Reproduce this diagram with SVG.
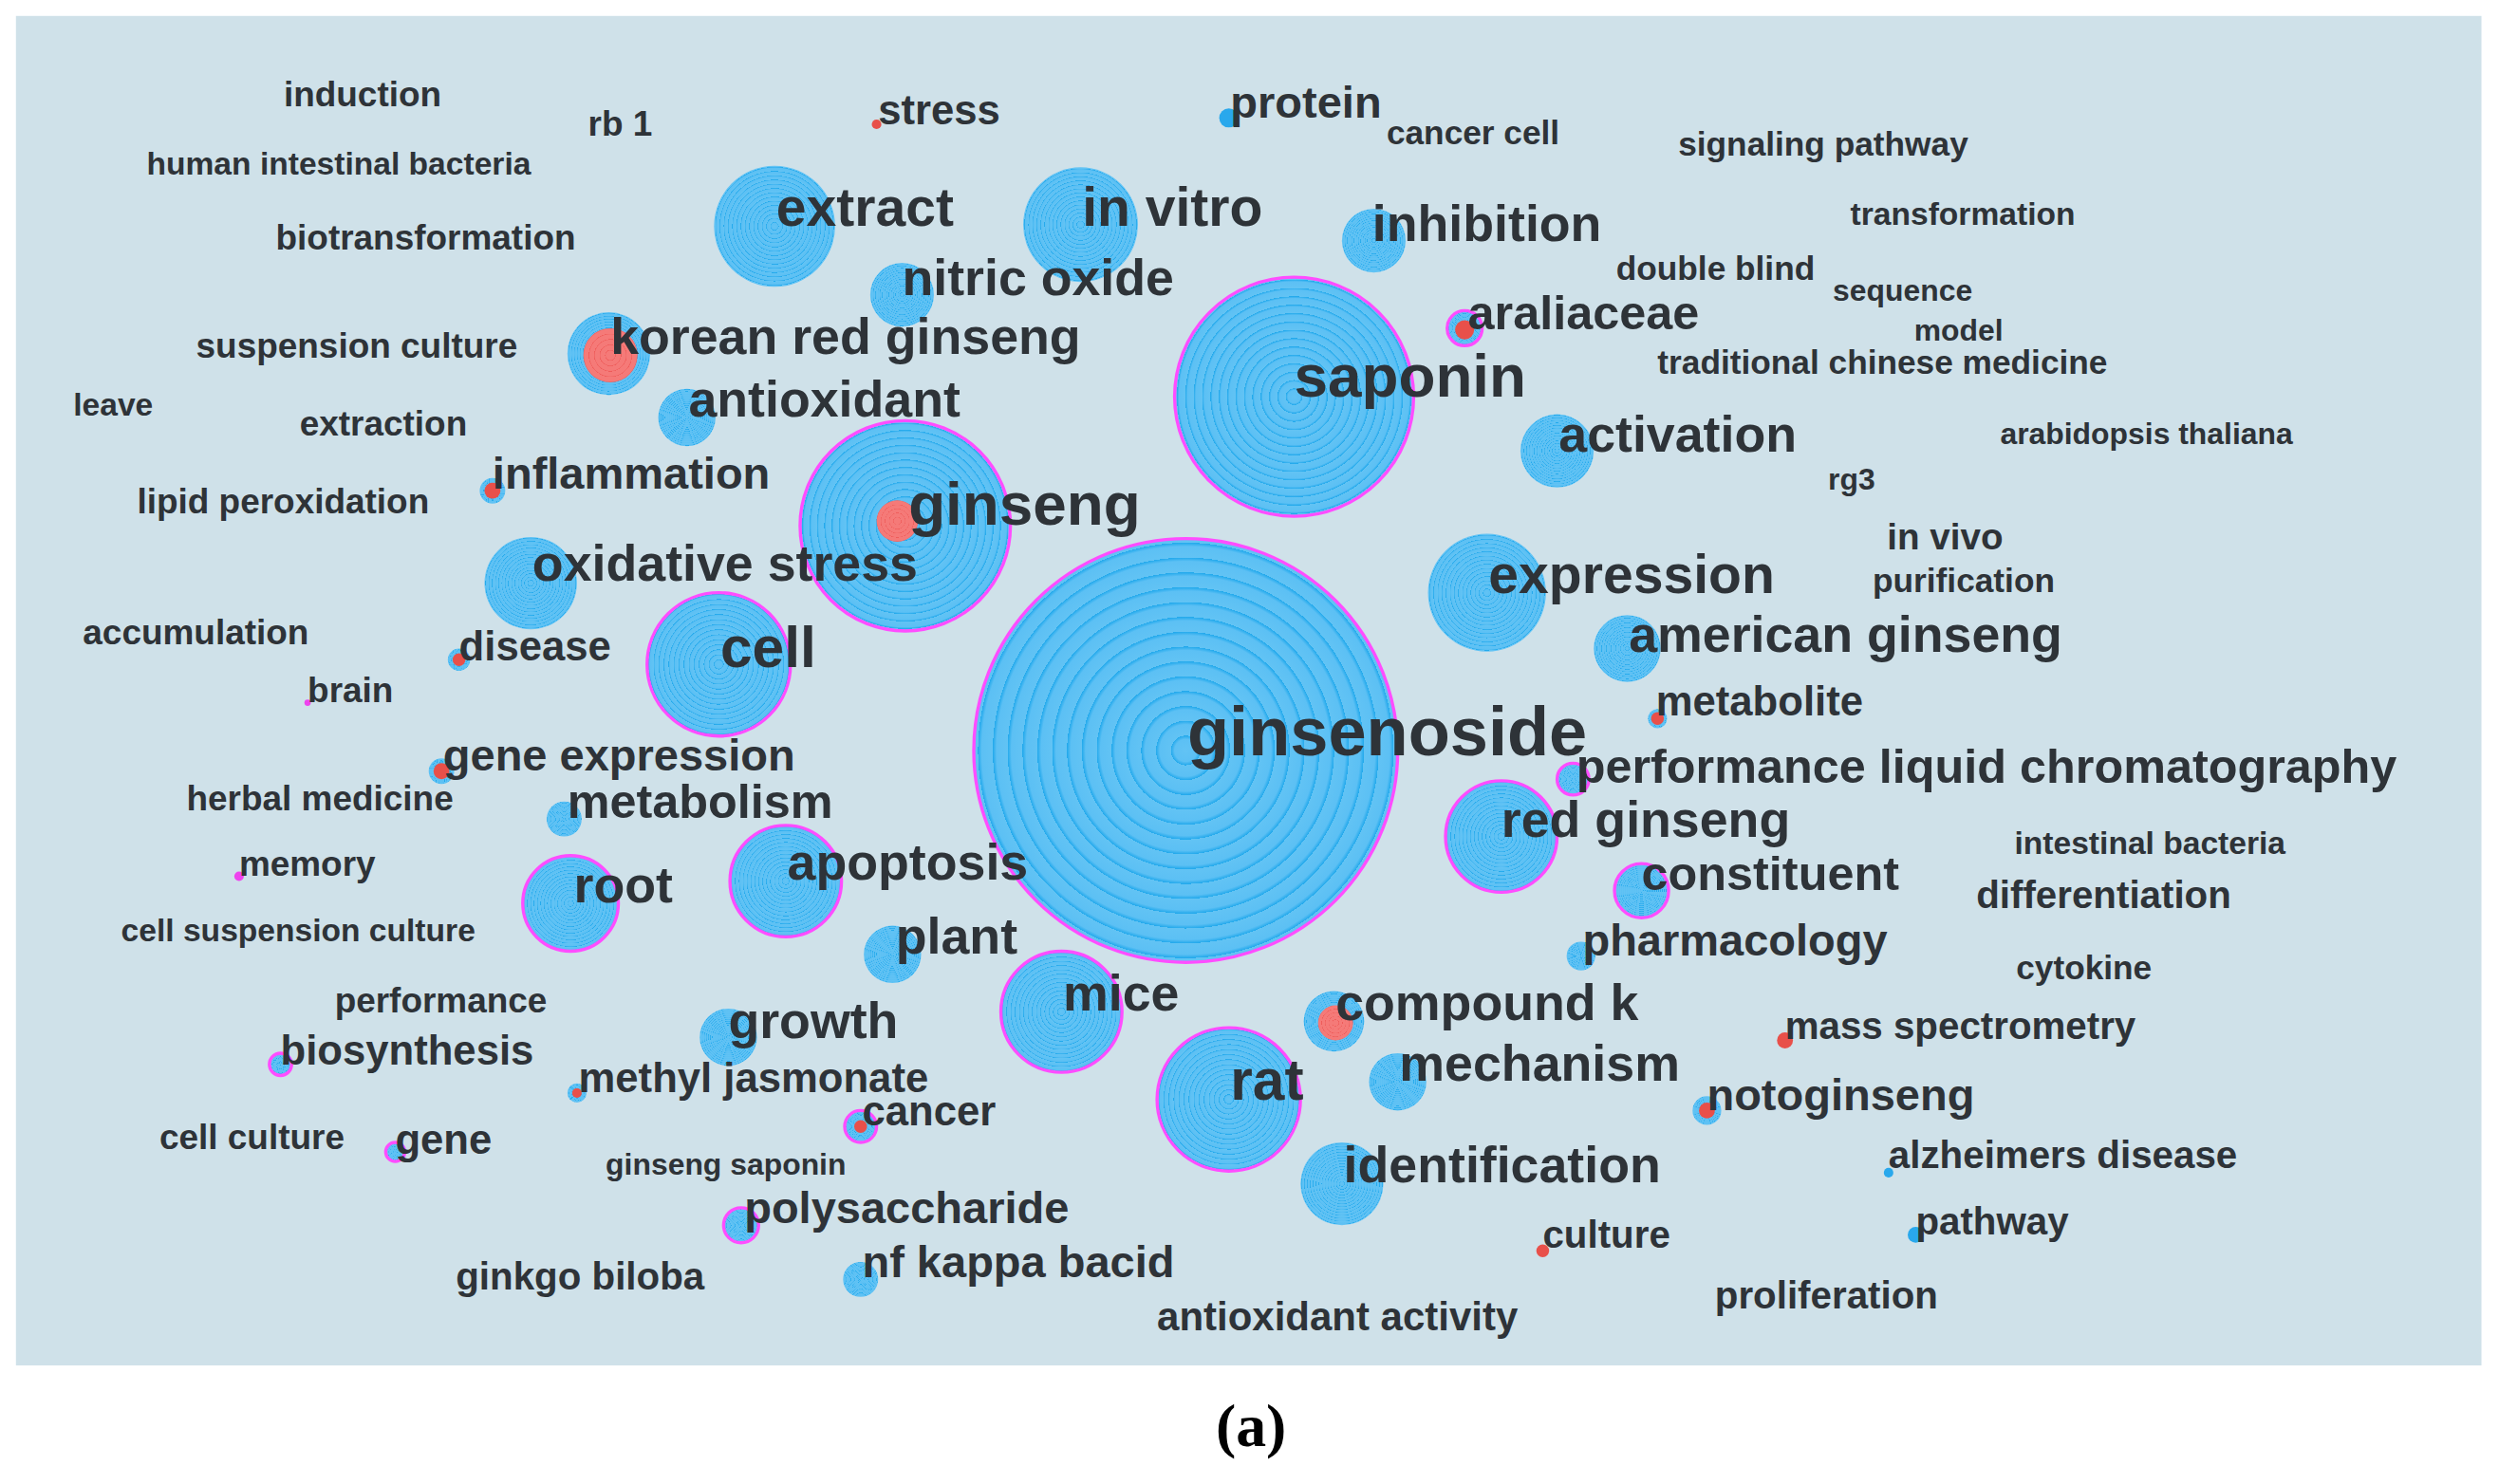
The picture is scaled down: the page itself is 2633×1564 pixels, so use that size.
<svg xmlns="http://www.w3.org/2000/svg" width="2633" height="1564" viewBox="0 0 2633 1564">
<style>
text{font-family:"Liberation Sans",Arial,sans-serif;fill:#2e3338;dominant-baseline:central}
.b{font-weight:bold}
.c{fill:url(#rg)}
.p{stroke:#ff4dff;stroke-width:2}
.r{fill:url(#rr)}
.d{fill:#29a8ec}
.pd{fill:#ee44ee}
.rd{fill:#e8504a}
.cap{font-family:"Liberation Serif","Times New Roman",serif;font-weight:bold;fill:#000}
</style>
<defs>
<radialGradient id="rg" r="0.035" spreadMethod="repeat">
<stop offset="0" stop-color="#62c3f4"/><stop offset="0.75" stop-color="#5cc0f4"/><stop offset="1" stop-color="#22a9ec"/>
</radialGradient>
<radialGradient id="rr" r="0.1" spreadMethod="repeat">
<stop offset="0" stop-color="#f57a78"/><stop offset="0.8" stop-color="#f57a78"/><stop offset="1" stop-color="#ee5a58"/>
</radialGradient>
</defs>
<rect width="2633" height="1564" fill="#fff"/>
<g transform="scale(1.6792)">
<rect x="10" y="10" width="1547" height="847" fill="#cfe1e9"/>
<g id="circles">
<g id="n-ginsenoside"><circle class="c p" cx="744" cy="471" r="133"/></g>
<g id="n-saponin"><circle class="c p" cx="812" cy="249" r="75"/></g>
<g id="n-ginseng"><circle class="c p" cx="568" cy="330" r="66"/><circle class="r" cx="563" cy="327" r="13"/></g>
<g id="n-extract"><circle class="c" cx="486" cy="142" r="38"/></g>
<g id="n-invitro"><circle class="c" cx="678" cy="141" r="36"/></g>
<g id="n-inhibition"><circle class="c" cx="862" cy="151" r="20"/></g>
<g id="n-nitric"><circle class="c" cx="566" cy="185" r="20"/></g>
<g id="n-korean"><circle class="c" cx="382" cy="222" r="26"/><circle class="r" cx="383" cy="223" r="17"/></g>
<g id="n-antioxidant"><circle class="c" cx="431" cy="262" r="18"/></g>
<g id="n-araliaceae"><circle class="c p" cx="919" cy="206" r="11"/><circle class="rd" cx="919" cy="207" r="6"/></g>
<g id="n-activation"><circle class="c" cx="977" cy="283" r="23"/></g>
<g id="n-inflammation"><circle class="c" cx="309" cy="308" r="8"/><circle class="rd" cx="309" cy="308" r="5"/></g>
<g id="n-oxidative"><circle class="c" cx="333" cy="366" r="29"/></g>
<g id="n-expression"><circle class="c" cx="933" cy="372" r="37"/></g>
<g id="n-american"><circle class="c" cx="1021" cy="407" r="21"/></g>
<g id="n-cell"><circle class="c p" cx="451" cy="417" r="45"/></g>
<g id="n-disease"><circle class="c" cx="288" cy="414" r="7"/><circle class="rd" cx="288" cy="414" r="4"/></g>
<g id="n-metabolite"><circle class="c" cx="1040" cy="451" r="6"/><circle class="rd" cx="1040" cy="451" r="4"/></g>
<g id="n-hplc"><circle class="c p" cx="987" cy="489" r="10"/></g>
<g id="n-redginseng"><circle class="c p" cx="942" cy="525" r="35"/></g>
<g id="n-geneexp"><circle class="c" cx="277" cy="484" r="8"/><circle class="rd" cx="277" cy="484" r="5"/></g>
<g id="n-metabolism"><circle class="c" cx="354" cy="514" r="11"/></g>
<g id="n-constituent"><circle class="c p" cx="1030" cy="559" r="17"/></g>
<g id="n-apoptosis"><circle class="c p" cx="493" cy="553" r="35"/></g>
<g id="n-root"><circle class="c p" cx="358" cy="567" r="30"/></g>
<g id="n-plant"><circle class="c" cx="560" cy="599" r="18"/></g>
<g id="n-pharmacology"><circle class="c" cx="992" cy="600" r="9"/></g>
<g id="n-mice"><circle class="c p" cx="666" cy="635" r="38"/></g>
<g id="n-compoundk"><circle class="c" cx="837" cy="641" r="19"/><circle class="r" cx="838" cy="642" r="11"/></g>
<g id="n-growth"><circle class="c" cx="457" cy="651" r="18"/></g>
<g id="n-mechanism"><circle class="c" cx="877" cy="679" r="18"/></g>
<g id="n-rat"><circle class="c p" cx="771" cy="690" r="45"/></g>
<g id="n-notoginseng"><circle class="c" cx="1071" cy="697" r="9"/><circle class="rd" cx="1071" cy="697" r="5"/></g>
<g id="n-identification"><circle class="c" cx="842" cy="743" r="26"/></g>
<g id="n-biosynthesis"><circle class="c p" cx="176" cy="668" r="7"/></g>
<g id="n-methyl"><circle class="c" cx="362" cy="686" r="6"/><circle class="rd" cx="362" cy="686" r="3"/></g>
<g id="n-cancer"><circle class="c p" cx="540" cy="707" r="10"/><circle class="rd" cx="540" cy="707" r="4"/></g>
<g id="n-gene"><circle class="c p" cx="248" cy="723" r="6"/></g>
<g id="n-polysaccharide"><circle class="c p" cx="465" cy="769" r="11"/></g>
<g id="n-nfkappa"><circle class="c" cx="540" cy="803" r="11"/></g>
<g id="n-protein"><circle class="d" cx="771" cy="74" r="6"/></g>
<g id="n-stress"><circle class="rd" cx="550" cy="78" r="3"/></g>
<g id="n-culture"><circle class="rd" cx="968" cy="785" r="4"/></g>
<g id="n-pathway"><circle class="d" cx="1202" cy="775" r="5"/></g>
<g id="n-mass"><circle class="rd" cx="1120" cy="653" r="5"/></g>
<g id="n-memory"><circle class="pd" cx="150" cy="550" r="3"/></g>
<g id="n-brain"><circle class="pd" cx="193" cy="441" r="2"/></g>
<g id="n-alz"><circle class="d" cx="1185" cy="736" r="3"/></g>
</g>
<g id="labels">
<text class="b" x="745" y="459" font-size="43">ginsenoside</text>
<text class="b" x="812" y="236" font-size="38">saponin</text>
<text class="b" x="570" y="316" font-size="38">ginseng</text>
<text class="b" x="487" y="130" font-size="34">extract</text>
<text class="b" x="679" y="130" font-size="34">in vitro</text>
<text class="b" x="861" y="140" font-size="32">inhibition</text>
<text class="b" x="566" y="174" font-size="32">nitric oxide</text>
<text class="b" x="383" y="211" font-size="32">korean red ginseng</text>
<text class="b" x="432" y="250" font-size="32">antioxidant</text>
<text class="b" x="921" y="196" font-size="30">araliaceae</text>
<text class="b" x="978" y="272" font-size="32">activation</text>
<text class="b" x="309" y="297" font-size="28">inflammation</text>
<text class="b" x="334" y="353" font-size="32">oxidative stress</text>
<text class="b" x="934" y="360" font-size="34">expression</text>
<text class="b" x="1022" y="398" font-size="32">american ginseng</text>
<text class="b" x="452" y="406" font-size="36">cell</text>
<text class="b" x="288" y="405" font-size="26">disease</text>
<text class="b" x="1039" y="440" font-size="26">metabolite</text>
<text class="b" x="989" y="481" font-size="30">performance liquid chromatography</text>
<text class="b" x="942" y="514" font-size="32">red ginseng</text>
<text class="b" x="278" y="474" font-size="28">gene expression</text>
<text class="b" x="356" y="503" font-size="30">metabolism</text>
<text class="b" x="1030" y="548" font-size="30">constituent</text>
<text class="b" x="494" y="541" font-size="32">apoptosis</text>
<text class="b" x="360" y="555" font-size="32">root</text>
<text class="b" x="562" y="587" font-size="32">plant</text>
<text class="b" x="993" y="590" font-size="28">pharmacology</text>
<text class="b" x="667" y="623" font-size="32">mice</text>
<text class="b" x="838" y="629" font-size="32">compound k</text>
<text class="b" x="457" y="640" font-size="32">growth</text>
<text class="b" x="878" y="667" font-size="32">mechanism</text>
<text class="b" x="772" y="678" font-size="36">rat</text>
<text class="b" x="1071" y="687" font-size="28">notoginseng</text>
<text class="b" x="843" y="731" font-size="32">identification</text>
<text class="b" x="176" y="659" font-size="26">biosynthesis</text>
<text class="b" x="363" y="676" font-size="26">methyl jasmonate</text>
<text class="b" x="541" y="697" font-size="26">cancer</text>
<text class="b" x="248" y="715" font-size="26">gene</text>
<text class="b" x="467" y="758" font-size="28">polysaccharide</text>
<text class="b" x="541" y="792" font-size="28">nf kappa bacid</text>
<text class="b" x="726" y="826" font-size="25">antioxidant activity</text>
<text class="b" x="968" y="775" font-size="24">culture</text>
<text class="b" x="1202" y="767" font-size="24">pathway</text>
<text class="b" x="1076" y="813" font-size="24">proliferation</text>
<text class="b" x="1185" y="725" font-size="24">alzheimers disease</text>
<text class="b" x="1120" y="644" font-size="24">mass spectrometry</text>
<text class="b" x="1265" y="607" font-size="21">cytokine</text>
<text class="b" x="1240" y="562" font-size="24">differentiation</text>
<text class="b" x="1264" y="529" font-size="20">intestinal bacteria</text>
<text class="b" x="286" y="801" font-size="24">ginkgo biloba</text>
<text class="b" x="380" y="731" font-size="19">ginseng saponin</text>
<text class="b" x="100" y="714" font-size="22">cell culture</text>
<text class="b" x="210" y="628" font-size="22">performance</text>
<text class="b" x="76" y="584" font-size="20">cell suspension culture</text>
<text class="b" x="150" y="542" font-size="22">memory</text>
<text class="b" x="117" y="501" font-size="22">herbal medicine</text>
<text class="b" x="193" y="433" font-size="22">brain</text>
<text class="b" x="52" y="397" font-size="22">accumulation</text>
<text class="b" x="86" y="315" font-size="22">lipid peroxidation</text>
<text class="b" x="46" y="254" font-size="20">leave</text>
<text class="b" x="188" y="266" font-size="22">extraction</text>
<text class="b" x="123" y="217" font-size="22">suspension culture</text>
<text class="b" x="173" y="149" font-size="22">biotransformation</text>
<text class="b" x="92" y="103" font-size="20">human intestinal bacteria</text>
<text class="b" x="178" y="59" font-size="22">induction</text>
<text class="b" x="369" y="78" font-size="22">rb 1</text>
<text class="b" x="551" y="69" font-size="26">stress</text>
<text class="b" x="772" y="64" font-size="28">protein</text>
<text class="b" x="870" y="83" font-size="21">cancer cell</text>
<text class="b" x="1053" y="90" font-size="21">signaling pathway</text>
<text class="b" x="1161" y="134" font-size="20">transformation</text>
<text class="b" x="1014" y="168" font-size="21">double blind</text>
<text class="b" x="1150" y="182" font-size="19">sequence</text>
<text class="b" x="1201" y="207" font-size="19">model</text>
<text class="b" x="1040" y="227" font-size="21">traditional chinese medicine</text>
<text class="b" x="1255" y="272" font-size="19">arabidopsis thaliana</text>
<text class="b" x="1147" y="301" font-size="19">rg3</text>
<text class="b" x="1184" y="337" font-size="23">in vivo</text>
<text class="b" x="1175" y="364" font-size="21">purification</text>
<text class="cap" x="785" y="895" font-size="38" text-anchor="middle">(a)</text>
</g>
</g>
</svg>
